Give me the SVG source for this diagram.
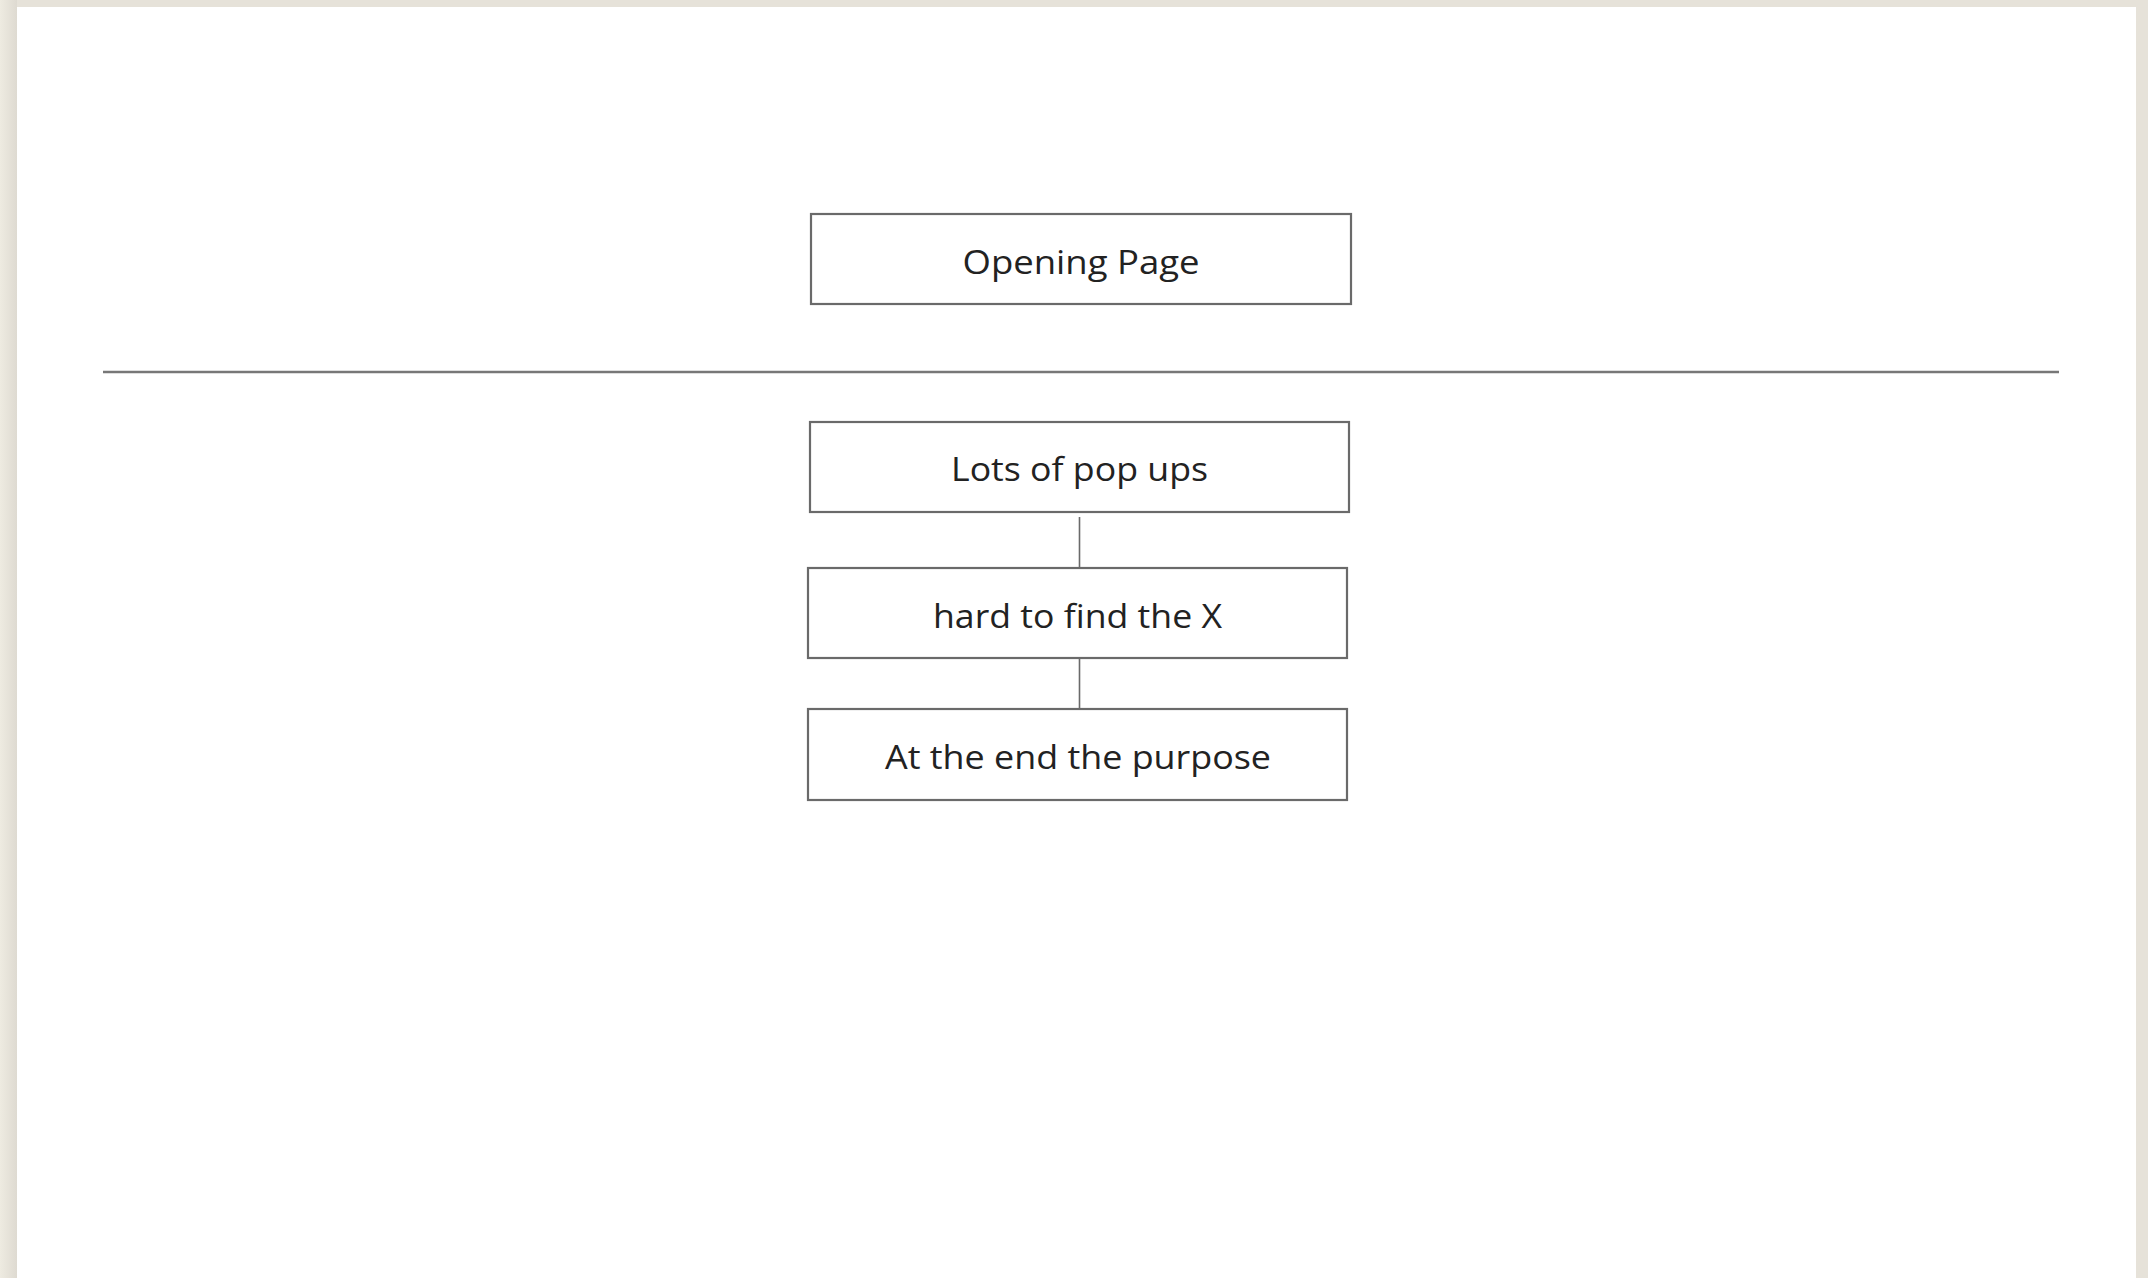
<svg xmlns="http://www.w3.org/2000/svg" width="2148" height="1278" viewBox="0 0 2148 1278">
<defs>
<linearGradient id="bgL" x1="0" y1="0" x2="1" y2="0">
<stop offset="0" stop-color="#eeebe1"/><stop offset="1" stop-color="#dedad1"/>
</linearGradient>
<style>
.box{fill:#ffffff;stroke:#6a6a6a;stroke-width:2.2}
.lbl{font-family:"Open Sans","Liberation Sans",sans-serif;font-size:32px;fill:#222222;text-anchor:middle}
.conn{stroke:#6a6a6a;stroke-width:1.6;fill:none}
</style>
</defs>
<rect x="0" y="0" width="2148" height="1278" fill="#e6e2d9"/>
<rect x="0" y="0" width="17" height="1278" fill="url(#bgL)"/>
<rect x="17" y="7" width="2119" height="1271" fill="#ffffff"/>
<line x1="103" y1="372" x2="2059" y2="372" stroke="#777777" stroke-width="2.4"/>
<g id="node-opening">
<rect class="box" x="811" y="214" width="540" height="90"/>
<text class="lbl" x="1081" y="274" textLength="237" lengthAdjust="spacingAndGlyphs">Opening Page</text>
</g>
<g id="connectors">
<line class="conn" x1="1079.5" y1="517" x2="1079.5" y2="568"/>
<line class="conn" x1="1079.5" y1="658" x2="1079.5" y2="709"/>
</g>
<g id="node-popups">
<rect class="box" x="810" y="422" width="539" height="90"/>
<text class="lbl" x="1079.5" y="481" textLength="257" lengthAdjust="spacingAndGlyphs">Lots of pop ups</text>
</g>
<g id="node-findx">
<rect class="box" x="808" y="568" width="539" height="90"/>
<text class="lbl" x="1077.5" y="628" textLength="289" lengthAdjust="spacingAndGlyphs">hard to find the X</text>
</g>
<g id="node-purpose">
<rect class="box" x="808" y="709" width="539" height="91"/>
<text class="lbl" x="1078" y="769" textLength="386" lengthAdjust="spacingAndGlyphs">At the end the purpose</text>
</g>
</svg>
